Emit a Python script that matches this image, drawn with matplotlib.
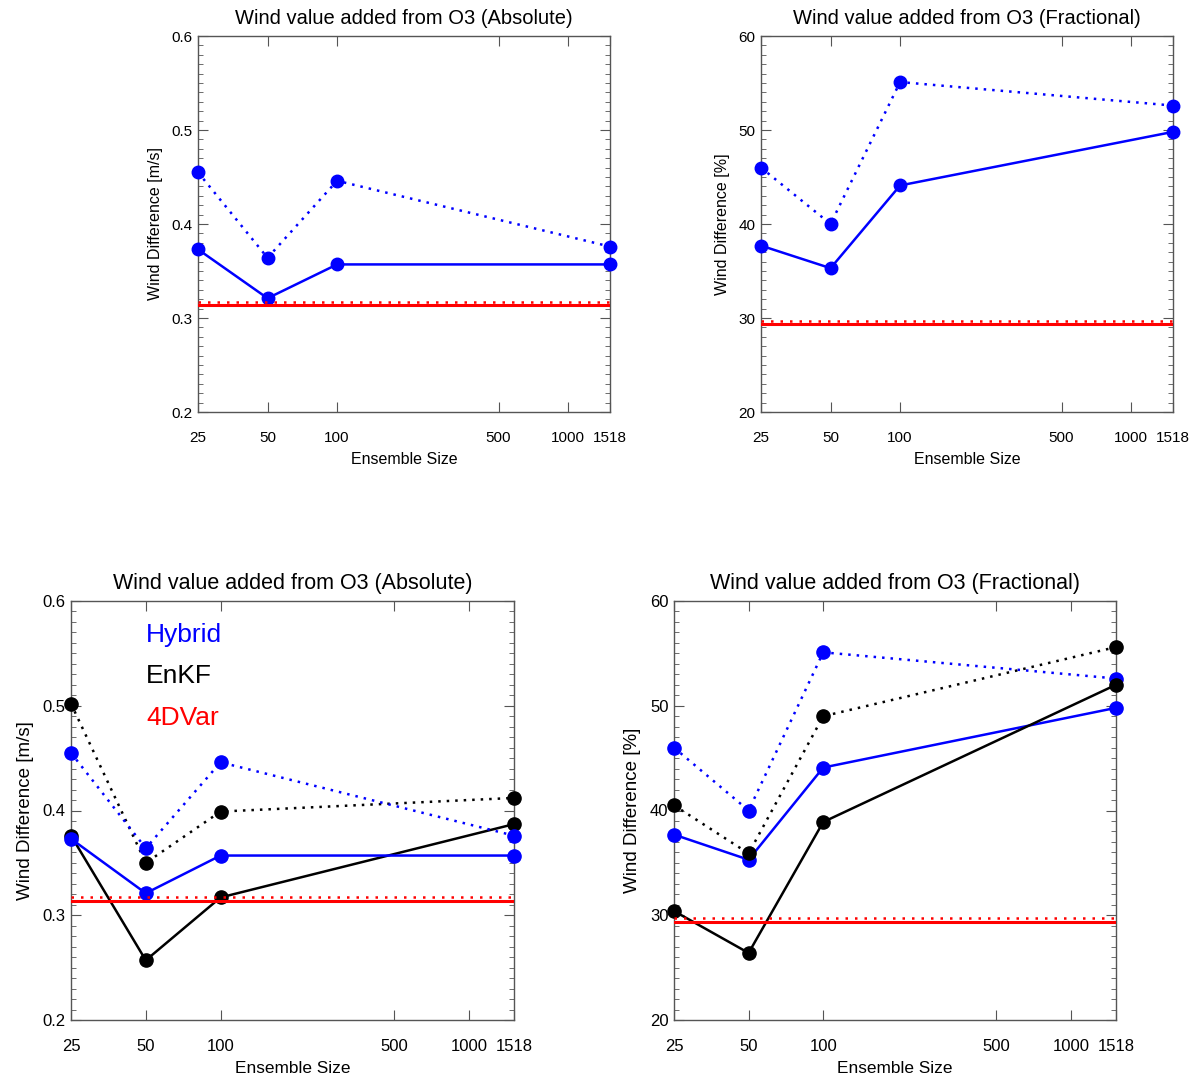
import matplotlib
matplotlib.use("Agg")
import matplotlib.pyplot as plt
from matplotlib.ticker import FixedLocator, MultipleLocator, NullLocator

plt.rcParams['font.family'] = ['Liberation Sans', 'DejaVu Sans']

# ensemble sizes on the x axis
sizes = [25, 50, 100, 1518]
xticks = [25, 50, 100, 500, 1000, 1518]

# absolute wind difference [m/s]
hyb_abs_dot = [0.455, 0.364, 0.446, 0.376]
hyb_abs_sol = [0.373, 0.321, 0.357, 0.357]
enkf_abs_dot = [0.502, 0.350, 0.399, 0.412]
enkf_abs_sol = [0.376, 0.257, 0.317, 0.387]
var_abs_sol = 0.314
var_abs_dot = 0.317

# fractional wind difference [%]
hyb_frac_dot = [46.0, 40.0, 55.1, 52.6]
hyb_frac_sol = [37.7, 35.3, 44.1, 49.8]
enkf_frac_dot = [40.5, 35.9, 49.0, 55.6]
enkf_frac_sol = [30.4, 26.4, 38.9, 52.0]
var_frac_sol = 29.4
var_frac_dot = 29.7

BLUE = '#0000ff'
BLACK = '#000000'
RED = '#ff0000'


def panel(ax, title, ylabel, ylim, major, minor, series, red_sol, red_dot, big):
    fs_title = 15.5 if big else 14.5
    fs_tick = 12 if big else 11
    fs_lab = 13.5 if big else 11.5
    fs_xlab = 12.4 if big else 11.5
    ms = 9.5 if big else 9
    for y, color, ls in series:
        style = '-' if ls == 'solid' else (0, (1, 2.4))
        ax.plot(sizes, y, color=color, linestyle=style, lw=1.8,
                marker='o', ms=ms, clip_on=False, zorder=3)
    ax.axhline(red_sol, color=RED, lw=2.2, zorder=4)
    ax.axhline(red_dot, color=RED, lw=1.8, linestyle=(0, (1, 2.8)), zorder=4)

    ax.set_xscale('log')
    ax.set_xlim(25, 1518)
    ax.set_ylim(*ylim)
    ax.xaxis.set_major_locator(FixedLocator(xticks))
    ax.xaxis.set_minor_locator(NullLocator())
    ax.set_xticklabels([str(t) for t in xticks])
    ax.yaxis.set_major_locator(MultipleLocator(major))
    ax.yaxis.set_minor_locator(MultipleLocator(minor))
    ax.tick_params(which='both', direction='in', top=True, right=True,
                   labelsize=fs_tick, color='#555555')
    ax.tick_params(axis='x', which='major', length=7, pad=14)
    ax.tick_params(axis='y', which='major', length=7, pad=4)
    ax.tick_params(axis='y', which='minor', length=3.5)
    for s in ax.spines.values():
        s.set_color('#555555')
        s.set_linewidth(1.0)
    ax.set_title(title, fontsize=fs_title, pad=9)
    ax.set_xlabel('Ensemble Size', fontsize=fs_xlab, labelpad=5)
    ax.set_ylabel(ylabel, fontsize=fs_lab, labelpad=6)


fig = plt.figure(figsize=(11.94, 10.79), dpi=100)
W, H = 1194, 1079

def add_axes(left, top, right, bottom):
    return fig.add_axes([left / W, 1 - bottom / H, (right - left) / W, (bottom - top) / H])

ax1 = add_axes(198, 36, 610, 412)
ax2 = add_axes(761, 36, 1173, 412)
ax3 = add_axes(71, 601, 514, 1020)
ax4 = add_axes(674, 601, 1116, 1020)

panel(ax1, 'Wind value added from O3 (Absolute)', 'Wind Difference [m/s]',
      (0.2, 0.6), 0.1, 0.01,
      [(hyb_abs_dot, BLUE, 'dot'), (hyb_abs_sol, BLUE, 'solid')],
      var_abs_sol, var_abs_dot, False)
panel(ax2, 'Wind value added from O3 (Fractional)', 'Wind Difference [%]',
      (20, 60), 10, 1,
      [(hyb_frac_dot, BLUE, 'dot'), (hyb_frac_sol, BLUE, 'solid')],
      var_frac_sol, var_frac_dot, False)
panel(ax3, 'Wind value added from O3 (Absolute)', 'Wind Difference [m/s]',
      (0.2, 0.6), 0.1, 0.01,
      [(enkf_abs_dot, BLACK, 'dot'), (enkf_abs_sol, BLACK, 'solid'),
       (hyb_abs_dot, BLUE, 'dot'), (hyb_abs_sol, BLUE, 'solid')],
      var_abs_sol, var_abs_dot, True)
panel(ax4, 'Wind value added from O3 (Fractional)', 'Wind Difference [%]',
      (20, 60), 10, 1,
      [(hyb_frac_dot, BLUE, 'dot'), (hyb_frac_sol, BLUE, 'solid'),
       (enkf_frac_dot, BLACK, 'dot'), (enkf_frac_sol, BLACK, 'solid')],
      var_frac_sol, var_frac_dot, True)

# text legend in the lower left panel
for label, color, yy in [('Hybrid', BLUE, 0.92), ('EnKF', BLACK, 0.82), ('4DVar', RED, 0.72)]:
    ax3.text(0.17, yy, label, color=color, fontsize=19, transform=ax3.transAxes,
             va='center', ha='left')

fig.savefig('out.png', dpi=100)
